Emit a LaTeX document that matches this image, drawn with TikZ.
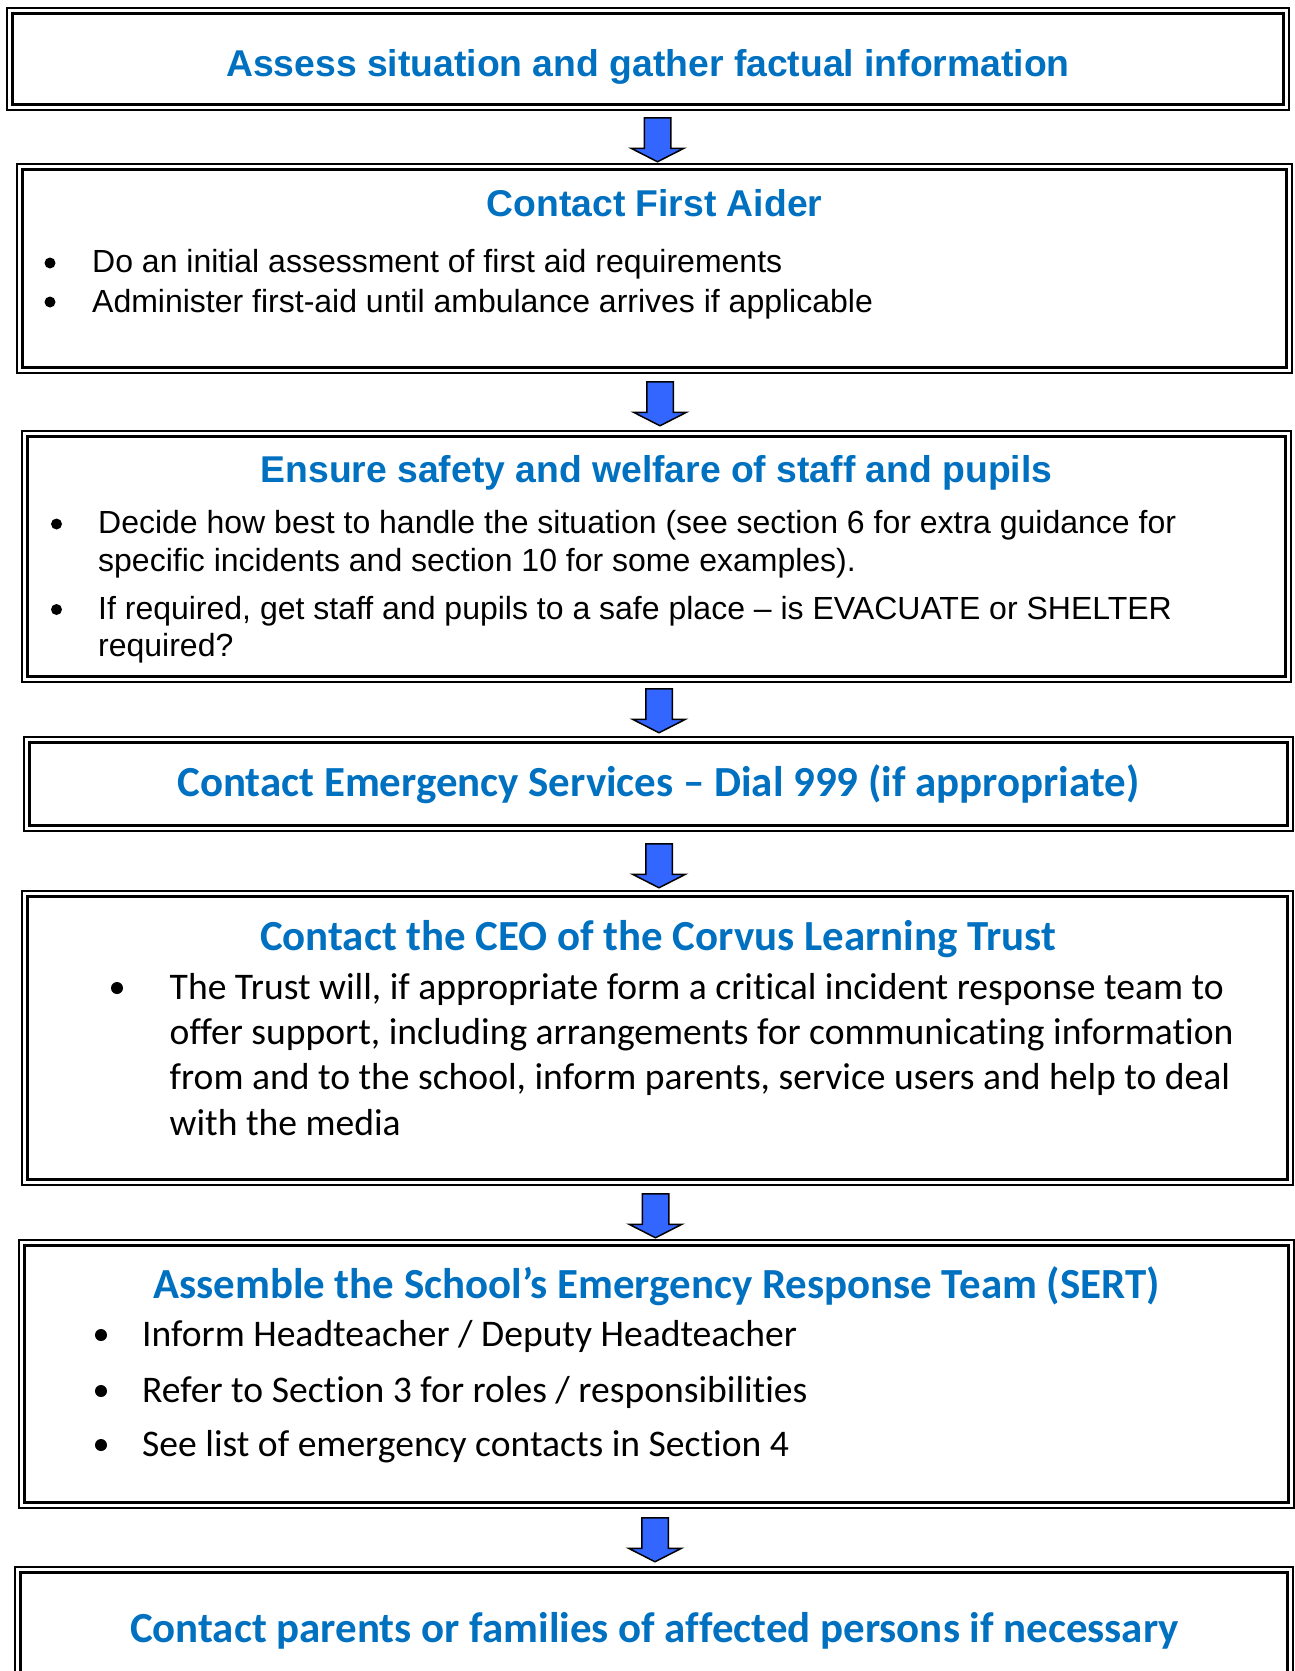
\documentclass[tikz,border=0pt]{standalone}
\usepackage{fontspec}
\newfontfamily\arialfont{Liberation Sans}
\newfontfamily\calfont{Carlito}[Ligatures=NoCommon]
\usetikzlibrary{shapes.arrows,calc}
\definecolor{titleblue}{RGB}{0,112,192}
\definecolor{arrowblue}{RGB}{51,102,255}
\tikzset{
  frame/.style={draw=black, line width=2pt, inner sep=0pt, outer sep=0pt},
  innerframe/.style={draw=black, line width=3pt},
  downarrow/.style={single arrow, shape border rotate=270, draw=black, line width=1.5pt,
    fill=arrowblue, inner sep=12.5pt, minimum height=44pt, minimum width=51pt,
    single arrow head extend=13pt, single arrow tip angle=126, anchor=tail},
  atitle/.style={font=\arialfont\bfseries\fontsize{37.3}{45}\selectfont, text=titleblue,
    inner sep=0pt, anchor=base},
  ctitle/.style={font=\calfont\bfseries\fontsize{42.9}{52}\selectfont, text=titleblue,
    inner sep=0pt, anchor=base},
  abody/.style={font=\arialfont\fontsize{32}{37}\selectfont, inner sep=0pt, anchor=base west},
  cbody/.style={font=\calfont\fontsize{37.6}{45}\selectfont, inner sep=0pt, anchor=base west},
  dot/.style={circle, fill=black, inner sep=0pt, minimum size=11pt},
  cdot/.style={circle, fill=black, inner sep=0pt, minimum size=12pt},
}
\begin{document}
\begin{tikzpicture}[x=1pt,y=-1pt]
\useasboundingbox (0,0) rectangle (1295,1671);
\clip (0,0) rectangle (1295,1671);
\fill[white] (0,0) rectangle (1295,1671);

% outer frames of the seven steps
\node[frame, minimum width=1282pt, minimum height=102pt] (b1) at (648,59) {};
\node[frame, minimum width=1275pt, minimum height=209pt] (b2) at (654.5,268.5) {};
\node[frame, minimum width=1269pt, minimum height=251pt] (b3) at (656.5,556.5) {};
\node[frame, minimum width=1269pt, minimum height=94pt] (b4) at (658.5,784) {};
\node[frame, minimum width=1271pt, minimum height=294pt] (b5) at (657.5,1038) {};
\node[frame, minimum width=1275pt, minimum height=268pt] (b6) at (656.5,1374) {};
\node[frame, minimum width=1278pt, minimum height=134pt] (b7) at (654,1634) {};
% inner lines of the double borders
\foreach \b in {b1,b2,b3,b4,b5,b6,b7}
  \draw[innerframe] ($(\b.north west)+(5.5,5.5)$) rectangle ($(\b.south east)+(-5.5,-5.5)$);

% block arrows between the steps
\node[downarrow] (a1) at (657.5,117) {};
\node[downarrow] (a2) at (660,381) {};
\node[downarrow] (a3) at (659,688) {};
\node[downarrow] (a4) at (659,843) {};
\node[downarrow] (a5) at (655.5,1193) {};
\node[downarrow] (a6) at (655,1517) {};

% step 1
\node[atitle] (t1) at (648,76) {Assess situation and gather factual information};

% step 2
\node[atitle] (t2) at (654.5,216) {Contact First Aider};
\node[dot] (d2a) at (50,263) {};
\node[abody] (l2a) at (92,272.5) {Do an initial assessment of first aid requirements};
\node[dot] (d2b) at (50,302) {};
\node[abody] (l2b) at (92,312) {Administer first-aid until ambulance arrives if applicable};

% step 3
\node[atitle] (t3) at (656.5,482.5) {Ensure safety and welfare of staff and pupils};
\node[dot] (d3a) at (56.5,524) {};
\node[abody] (l3a) at (98,533.5) {Decide how best to handle the situation (see section 6 for extra guidance for};
\node[abody] (l3b) at (98,571) {specific incidents and section 10 for some examples).};
\node[dot] (d3b) at (56.5,609.5) {};
\node[abody] (l3c) at (98,619) {If required, get staff and pupils to a safe place – is EVACUATE or SHELTER};
\node[abody] (l3d) at (98,656.5) {required?};

% step 4
\node[ctitle] (t4) at (658.5,796) {Contact Emergency Services – Dial 999 (if appropriate)};

% step 5
\node[ctitle] (t5) at (658,950) {Contact the CEO of the Corvus Learning Trust};
\node[cdot] (d5a) at (117,988) {};
\node[cbody] (l5a) at (169.5,999) {The Trust will, if appropriate form a critical incident response team to};
\node[cbody] (l5b) at (169.5,1044) {offer support, including arrangements for communicating information};
\node[cbody] (l5c) at (169.5,1089.5) {from and to the school, inform parents, service users and help to deal};
\node[cbody] (l5d) at (169.5,1135.5) {with the media};

% step 6
\node[ctitle] (t6) at (656.5,1298) {Assemble the School’s Emergency Response Team (SERT)};
\node[cdot] (d6a) at (101,1335) {};
\node[cbody] (l6a) at (142,1346) {Inform Headteacher / Deputy Headteacher};
\node[cdot] (d6b) at (101,1391) {};
\node[cbody] (l6b) at (142,1402) {Refer to Section 3 for roles / responsibilities};
\node[cdot] (d6c) at (101,1445) {};
\node[cbody] (l6c) at (142,1456) {See list of emergency contacts in Section 4};

% step 7
\node[ctitle] (t7) at (654.5,1642) {Contact parents or families of affected persons if necessary};
\end{tikzpicture}
\end{document}
